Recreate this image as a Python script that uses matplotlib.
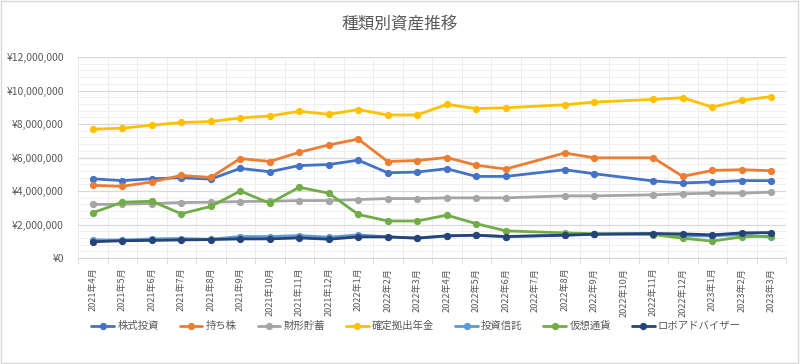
import numpy as np
import matplotlib
matplotlib.use("Agg")
import matplotlib.pyplot as plt
from matplotlib.ticker import MultipleLocator, FuncFormatter
from matplotlib.patches import Rectangle

plt.rcParams['font.family'] = ['Noto Sans CJK JP', 'DejaVu Sans']

title = "種類別資産推移"
months = ["2021年4月", "2021年5月", "2021年6月", "2021年7月", "2021年8月", "2021年9月",
          "2021年10月", "2021年11月", "2021年12月", "2022年1月", "2022年2月", "2022年3月",
          "2022年4月", "2022年5月", "2022年6月", "2022年7月", "2022年8月", "2022年9月",
          "2022年10月", "2022年11月", "2022年12月", "2023年1月", "2023年2月", "2023年3月"]
nan = np.nan
# values in millions of yen; NaN = no data that month
kabushiki = [4.73, 4.62, 4.73, 4.79, 4.71, 5.35, 5.15, 5.52, 5.58, 5.84, 5.09, 5.13,
             5.33, 4.87, 4.87, nan, 5.27, 5.03, nan, 4.60, 4.48, 4.54, 4.62, 4.62]
mochikabu = [4.34, 4.28, 4.54, 4.93, 4.81, 5.94, 5.76, 6.31, 6.75, 7.10, 5.76, 5.82,
             6.00, 5.54, 5.31, nan, 6.27, 5.98, nan, 5.98, 4.87, 5.23, 5.27, 5.21]
zaikei = [3.20, 3.21, 3.25, 3.31, 3.33, 3.37, 3.39, 3.43, 3.43, 3.49, 3.55, 3.55,
          3.59, 3.59, 3.59, nan, 3.71, 3.71, nan, 3.77, 3.83, 3.87, 3.87, 3.93]
kakutei = [7.69, 7.75, 7.93, 8.09, 8.15, 8.36, 8.48, 8.76, 8.58, 8.86, 8.54, 8.54,
           9.17, 8.92, 8.97, nan, 9.15, 9.31, nan, 9.47, 9.57, 9.01, 9.41, 9.64]
toshin = [1.08, 1.07, 1.14, 1.16, 1.12, 1.28, 1.28, 1.34, 1.24, 1.38, 1.26, 1.20,
          1.32, 1.36, 1.28, nan, 1.36, 1.42, nan, 1.46, 1.32, 1.32, 1.40, 1.24]
kaso = [2.70, 3.33, 3.39, 2.64, 3.08, 4.00, 3.27, 4.22, 3.87, 2.60, 2.21, 2.21,
        2.56, 2.05, 1.62, nan, 1.50, 1.45, nan, 1.40, 1.18, 1.01, 1.26, 1.32]
robo = [0.97, 1.03, 1.05, 1.08, 1.10, 1.14, 1.14, 1.20, 1.12, 1.26, 1.26, 1.18,
        1.32, 1.36, 1.28, nan, 1.36, 1.42, nan, 1.46, 1.44, 1.38, 1.50, 1.52]

series_names = ["株式投資", "持ち株", "財形貯蓄", "確定拠出年金", "投資信託", "仮想通貨", "ロボアドバイザー"]
series_vals = [kabushiki, mochikabu, zaikei, kakutei, toshin, kaso, robo]
colors = ["#4472C4", "#ED7D31", "#A5A5A5", "#FFC000", "#5B9BD5", "#70AD47", "#264478"]

fig = plt.figure(figsize=(8, 3.64), dpi=100)
ax = fig.add_axes([78/800, 1-258/364, (786-78)/800, (258-57)/364])

x = np.arange(len(months))
for name, vals, c in zip(series_names, series_vals, colors):
    v = np.array(vals) * 1e6
    m = ~np.isnan(v)
    ax.plot(x[m], v[m], color=c, lw=2.0, marker='o', ms=4.2, label=name,
            solid_capstyle='round', zorder=3)

ax.set_xlim(-0.5, len(months) - 0.5)
ax.set_ylim(0, 12e6)
ax.yaxis.set_major_locator(MultipleLocator(2e6))
ax.yaxis.set_minor_locator(MultipleLocator(4e5))
ax.yaxis.set_major_formatter(FuncFormatter(lambda v, p: "¥{:,.0f}".format(v)))
ax.set_xticks(x)
ax.set_xticklabels(months, rotation=90, fontsize=6.6, color="#595959")
ax.set_xticks(np.arange(-0.5, len(months)), minor=True)
ax.tick_params(axis='x', which='major', length=0, pad=7)
ax.tick_params(axis='x', which='minor', length=4, color="#d9d9d9")
ax.tick_params(axis='y', which='both', length=0, labelsize=7.5, labelcolor="#595959", pad=10)

ax.grid(which='major', axis='y', color="#d9d9d9", lw=0.9, zorder=0)
ax.grid(which='minor', axis='y', color="#efefef", lw=0.7, zorder=0)
ax.grid(which='minor', axis='x', color="#ececec", lw=0.7, zorder=0)
for s in ['top', 'right', 'left']:
    ax.spines[s].set_visible(False)
ax.spines['bottom'].set_color("#d9d9d9")

fig.text(0.5, 1 - 25/364, title, ha='center', va='center', fontsize=12, color="#595959")

leg = fig.legend(loc='center', bbox_to_anchor=(0.52, 1 - 326/364), ncol=7, frameon=False,
                 fontsize=7.5, handlelength=2.2, columnspacing=2.0, handletextpad=0.3,
                 labelcolor="#595959")

fig.patches.append(Rectangle((0.001, 0.002), 0.997, 0.996, transform=fig.transFigure,
                             fill=False, edgecolor="#d9d9d9", lw=1))

fig.savefig("out.png", dpi=100, facecolor="white")
